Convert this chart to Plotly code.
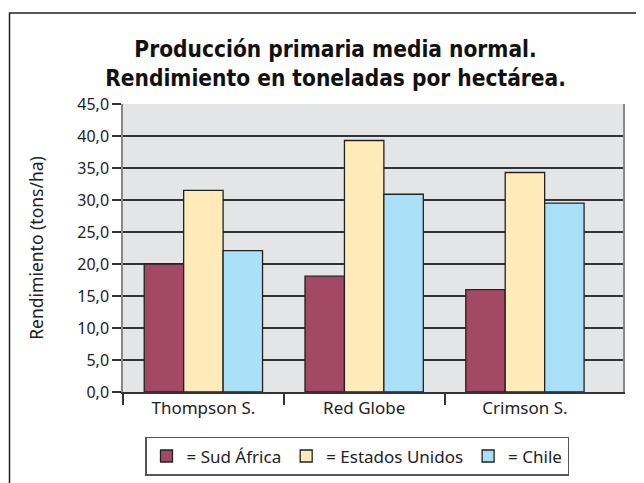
import plotly.graph_objects as go

categories = ["Thompson S.", "Red Globe", "Crimson S."]
sud_africa = [20.0, 18.1, 16.0]
estados_unidos = [31.5, 39.3, 34.3]
chile = [22.1, 30.9, 29.5]
series_names = ["= Sud África", "= Estados Unidos", "= Chile"]
series_colors = ["#a34865", "#feebb9", "#aadff8"]
y_ticks = [0, 5, 10, 15, 20, 25, 30, 35, 40, 45]
x_pos = list(range(len(categories)))
boundaries = [p - 0.5 for p in x_pos]

fig = go.Figure()
for name, vals, col in zip(series_names, [sud_africa, estados_unidos, chile], series_colors):
    fig.add_trace(go.Bar(x=x_pos, y=vals, name=name,
                         marker=dict(color=col, line=dict(color="#222222", width=1.3))))

# invisible helper trace carrying the category-boundary ticks on a second x axis
fig.add_trace(go.Scatter(x=[boundaries[0]], y=[0], xaxis="x2", mode="markers",
                         marker=dict(opacity=0), showlegend=False, hoverinfo="skip"))

font_main = "Noto Sans, Open Sans, sans-serif"
xr = [-0.5, 2.61]

fig.update_layout(
    width=636, height=475,
    margin=dict(l=115, r=21, t=96, b=91, autoexpand=False),
    paper_bgcolor="white", plot_bgcolor="#e4e5e7",
    separators=",.",
    barmode="group", bargap=0.264, bargroupgap=0,
    title=dict(text="<b>Producción primaria media normal.<br>Rendimiento en toneladas por hectárea.</b>",
               x=0.515, xanchor="center", y=0.897, yanchor="top",
               font=dict(family="DejaVu Sans Condensed, Liberation Sans Narrow, sans-serif",
                         size=22.5, color="#111111")),
    font=dict(family=font_main, color="#222222"),
    xaxis=dict(range=xr, tickvals=x_pos, ticktext=categories, ticks="", showgrid=False,
               zeroline=False, showline=True, linecolor="#333333", linewidth=1.5, automargin=False,
               tickfont=dict(size=17, color="#222222", family=font_main)),
    xaxis2=dict(range=xr, overlaying="x", side="bottom", tickvals=boundaries, ticks="outside",
                ticklen=12, tickwidth=1.5, tickcolor="#333333", showticklabels=False,
                showgrid=False, zeroline=False, showline=False, automargin=False),
    yaxis=dict(range=[0, 45], tickvals=y_ticks, tickformat=".1f", ticks="outside", ticklen=9,
               tickcolor="#333333", tickwidth=1.5, showgrid=True, gridcolor="#333333", gridwidth=1.5,
               zeroline=False, showline=True, linecolor="#888888", linewidth=1.5, mirror=True,
               automargin=False,
               tickfont=dict(size=16, color="#222222", family=font_main),
               title=dict(text="Rendimiento (tons/ha)",
                          font=dict(size=17.5, color="#222222", family=font_main),
                          standoff=29)),
    legend=dict(orientation="h", x=0.044, xanchor="left", y=-0.156, yanchor="top",
                bordercolor="#555555", borderwidth=1.5, bgcolor="white",
                font=dict(size=17, color="#222222", family=font_main),
                traceorder="normal"),
    shapes=[dict(type="rect", xref="paper", yref="paper", x0=-0.227, x1=1.2, y0=-0.5, y1=1.316,
                 line=dict(color="#222222", width=1.5), fillcolor="rgba(0,0,0,0)", layer="below")],
)

fig.write_html("out.html")
